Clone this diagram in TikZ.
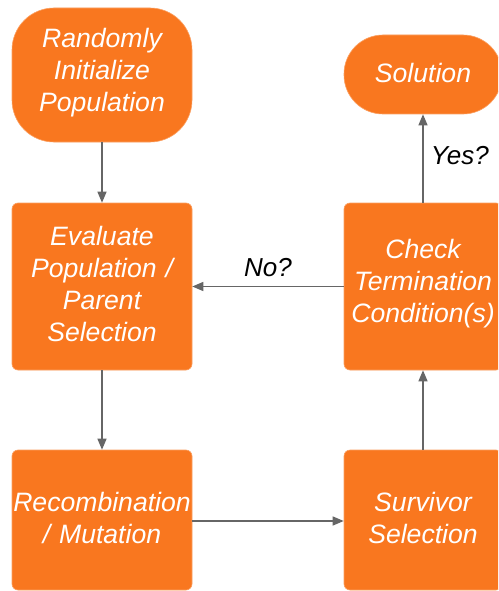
\documentclass[tikz,border=0pt]{standalone}
\usepackage{fontspec}
\setmainfont{Liberation Sans}
\usetikzlibrary{arrows.meta}
\definecolor{boxorange}{RGB}{249,119,31}
\definecolor{linegray}{RGB}{102,102,102}
\tikzset{
  stepbox/.style={fill=boxorange, draw=boxorange!70!white, line width=0.6pt,
    rounded corners=6pt, minimum width=180pt, minimum height=167pt,
    text width=180pt, align=center, inner sep=0pt, text=white,
    font=\fontsize{26.6}{32}\selectfont\itshape},
  conn/.style={draw=linegray, line width=1.2pt, -{Triangle[length=11pt,width=9pt]}},
  lbl/.style={font=\fontsize{26}{32}\selectfont\itshape, text=black}
}
\begin{document}
\begin{tikzpicture}[x=1pt,y=-1pt]
\useasboundingbox (0,0) rectangle (498,591);
\clip (0,0) rectangle (498,591);
\fill[white] (0,0) rectangle (498,591);
\node[stepbox, minimum height=134pt, rounded corners=42pt] (init) at (102,75) {Randomly\\Initialize\\Population\vspace*{4pt}};
\node[stepbox, minimum width=158pt, text width=158pt, minimum height=79pt, rounded corners=39pt] (sol) at (423,74.5) {Solution\vspace*{4pt}};
\node[stepbox] (eval) at (102,286.5) {Evaluate\\Population /\\Parent\\Selection\vspace*{5pt}};
\node[stepbox, minimum width=158pt, text width=158pt] (check) at (423,286.5) {Check\\Termination\\Condition(s)\vspace*{5pt}};
\node[stepbox, minimum height=140pt] (recomb) at (102,520) {Recombination\\/ Mutation\vspace*{5pt}};
\node[stepbox, minimum width=158pt, text width=158pt, minimum height=140pt] (surv) at (423,520) {Survivor\\Selection\vspace*{5pt}};
\draw[conn] (init) -- (eval);
\draw[conn] (eval) -- (recomb);
\draw[conn] (recomb.east |- 0,521) -- (surv.west |- 0,521);
\draw[conn] (surv) -- (check);
\draw[conn] (check) -- node[lbl, above=6pt] {No?} (eval);
\draw[conn] (check) -- node[lbl, right=4pt, yshift=3pt] {Yes?} (sol);
\end{tikzpicture}
\end{document}
